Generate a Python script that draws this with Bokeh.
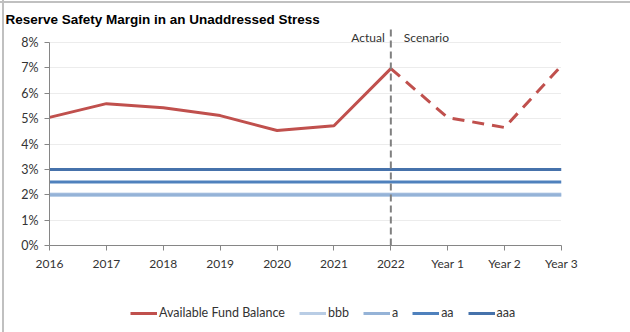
from bokeh.plotting import figure
from bokeh.layouts import column
from bokeh.models import (Range1d, FixedTicker, Legend, LegendItem, Label, Title)
from bokeh.embed import file_html
from bokeh.resources import INLINE

# ---- data ----
categories = ["2016", "2017", "2018", "2019", "2020", "2021", "2022", "Year 1", "Year 2", "Year 3"]
fund_actual = [5.05, 5.59, 5.43, 5.12, 4.53, 4.72, 6.97]          # 2016..2022 (%)
fund_scenario = [6.97, 5.04, 4.65, 7.09]                            # 2022..Year 3 (%)
bbb = [2.0] * 10
a_ = [2.0] * 10
aa = [2.5] * 10
aaa = [3.0] * 10
y_ticks = [0, 1, 2, 3, 4, 5, 6, 7, 8]
y_labels = ["0%", "1%", "2%", "3%", "4%", "5%", "6%", "7%", "8%"]
series_names = ["Available Fund Balance", "bbb", "a", "aa", "aaa"]
series_colors = ["#C0504D", "#C6D7EC", "#95B3D7", "#4F81BD", "#4672AB"]
series_widths = [3, 4.5, 3, 3, 3]
divider_index = 6          # 2022: last actual year
y_top = 8.67               # head-room above 8% for the Actual / Scenario captions
title_text = "Reserve Safety Margin in an Unaddressed Stress"

FONT = "Lato"
TXT = "#333333"

xi = list(range(len(categories)))

p = figure(width=630, height=290, output_backend="svg", toolbar_location=None,
           x_range=Range1d(0, len(categories) - 1), y_range=Range1d(0, y_top),
           min_border_left=49, min_border_right=69, min_border_top=25, min_border_bottom=45)
p.outline_line_color = None
p.background_fill_color = None
p.border_fill_color = None

p.add_layout(Title(text=title_text, text_font="Liberation Sans", text_font_style="bold",
                   text_font_size="13.5px", text_color="black", align="left",
                   offset=-44, standoff=-3), "above")

# axes
p.xaxis.ticker = FixedTicker(ticks=xi)
p.xaxis.major_label_overrides = {i: c for i, c in zip(xi, categories)}
p.yaxis.ticker = FixedTicker(ticks=y_ticks)
p.yaxis.major_label_overrides = {t: l for t, l in zip(y_ticks, y_labels)}
p.yaxis.bounds = (0, 8)
for ax in (p.xaxis[0], p.yaxis[0]):
    ax.axis_line_color = "#868686"
    ax.major_tick_line_color = "#868686"
    ax.major_tick_in = 0
    ax.major_tick_out = 5
    ax.minor_tick_line_color = None
    ax.major_label_text_font = FONT
    ax.major_label_text_color = TXT
p.xaxis.major_label_text_font_size = "12px"
p.yaxis.major_label_text_font_size = "12.5px"
p.xaxis.major_label_standoff = 5
p.yaxis.major_label_standoff = 6

p.xgrid.grid_line_color = None
p.ygrid.grid_line_color = "#D9D9D9"
p.ygrid.grid_line_dash = "1 1"
p.ygrid.grid_line_width = 1

series_values = [None, bbb, a_, aa, aaa]

# rating lines
for vals, col, w in zip(series_values[1:], series_colors[1:], series_widths[1:]):
    p.line(xi, vals, line_color=col, line_width=w)

# fund balance
p.line(xi[:len(fund_actual)], fund_actual, line_color=series_colors[0],
       line_width=series_widths[0])
p.line(xi[len(fund_actual) - 1:], fund_scenario, line_color=series_colors[0],
       line_width=series_widths[0], line_dash="12 8")

# actual / scenario divider
p.segment(x0=[divider_index], y0=[0], x1=[divider_index], y1=[y_top],
          line_color="#808080", line_width=2, line_dash="7 4")
p.add_layout(Label(x=divider_index, y=8, x_offset=-6, y_offset=5, text="Actual",
                   text_align="right", text_baseline="alphabetic", text_font=FONT,
                   text_font_size="12px", text_color=TXT))
p.add_layout(Label(x=divider_index, y=8, x_offset=13, y_offset=5, text="Scenario",
                   text_align="left", text_baseline="alphabetic", text_font=FONT,
                   text_font_size="12px", text_color=TXT))

# legend strip (its own frame is aligned with the chart frame by the column layout;
# the series are drawn there out of view only to provide legend swatches)
leg = figure(width=630, height=42, output_backend="svg", toolbar_location=None,
             x_range=Range1d(0, len(categories) - 1), y_range=Range1d(100, 101),
             x_axis_type=None, y_axis_type=None,
             min_border_left=0, min_border_right=0, min_border_top=0, min_border_bottom=0)
leg.outline_line_color = None
leg.background_fill_color = None
leg.border_fill_color = None
items = []
leg_series = [fund_actual, bbb, a_, aa, aaa]
leg_colors = ["#C0504D", "#B9CDE5", "#95B3D7", "#4F81BD", "#4672AB"]
for name, vals, col in zip(series_names, leg_series, leg_colors):
    r = leg.line(x=xi[:len(vals)], y=vals, line_color=col, line_width=3)
    items.append(LegendItem(label=name, renderers=[r]))
legend = Legend(items=items, orientation="horizontal", location=(81, 12),
                glyph_width=27, glyph_height=12, label_standoff=2, spacing=14,
                padding=0, margin=0, border_line_color=None,
                background_fill_alpha=0, label_text_font=FONT,
                label_text_font_size="12.5px", label_text_color=TXT,
                label_height=12, label_width=1)
leg.add_layout(legend, "center")

frame_css = ("linear-gradient(#C0C0C0, #C0C0C0) 0 1px / 100% 2px no-repeat, "
             "linear-gradient(#C0C0C0, #C0C0C0) 2px 0 / 2px 100% no-repeat, white")
layout = column(p, leg, spacing=0, styles={"background": frame_css})
html = file_html(layout, INLINE)
html = html.replace("<body>", '<body style="margin:0">')
open("out.html", "w").write(html)
